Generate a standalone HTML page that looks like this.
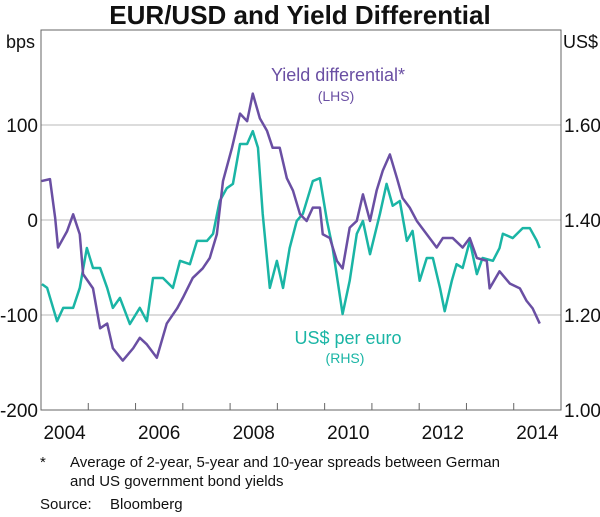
<!DOCTYPE html>
<html><head><meta charset="utf-8">
<style>
body{margin:0;background:#fff;width:600px;height:512px;overflow:hidden;font-family:"Liberation Sans",Arial,sans-serif;}
svg text{font-family:"Liberation Sans",Arial,sans-serif;}
</style></head>
<body>
<svg id="chart" width="600" height="512" xmlns="http://www.w3.org/2000/svg">
<text x="300" y="24" text-anchor="middle" font-size="26" font-weight="bold" fill="#111">EUR/USD and Yield Differential</text>
<g id="grid"></g>
<g id="axes"></g>
<g id="series"></g>
<text x="6" y="48" font-size="18" fill="#111">bps</text>
<text x="563" y="48" font-size="18" fill="#111">US$</text>
<text x="338" y="81" text-anchor="middle" font-size="18" fill="#6a4fa3">Yield differential*</text>
<text x="336" y="101" text-anchor="middle" font-size="14" fill="#6a4fa3">(LHS)</text>
<text x="348" y="344" text-anchor="middle" font-size="18" fill="#1ab5a5">US$ per euro</text>
<text x="345" y="363" text-anchor="middle" font-size="14" fill="#1ab5a5">(RHS)</text>
<text x="40" y="467" font-size="15" fill="#111">*</text>
<text x="70" y="467" font-size="15" fill="#111">Average of 2-year, 5-year and 10-year spreads between German</text>
<text x="70" y="486" font-size="15" fill="#111">and US government bond yields</text>
<text x="40" y="509" font-size="15" fill="#111">Source:</text>
<text x="110" y="509" font-size="15" fill="#111">Bloomberg</text>
</svg>
<script>
const leftTicks=[-200,-100,0,100];
const rightTickLabels=["1.00","1.20","1.40","1.60"];
const rightTicks=[1.0,1.2,1.4,1.6];
const yearLabels=[2004,2006,2008,2010,2012,2014];
const yieldDates=[2004.01,2004.19,2004.30,2004.36,2004.55,2004.68,2004.82,2004.89,2005.10,2005.25,2005.40,2005.52,2005.73,2005.95,2006.09,2006.24,2006.45,2006.66,2006.88,2007.00,2007.21,2007.42,2007.57,2007.72,2007.85,2008.04,2008.21,2008.36,2008.48,2008.63,2008.78,2008.90,2009.05,2009.20,2009.33,2009.48,2009.62,2009.75,2009.90,2009.96,2010.11,2010.26,2010.38,2010.53,2010.68,2010.81,2010.96,2011.10,2011.23,2011.38,2011.53,2011.65,2011.80,2011.95,2012.16,2012.37,2012.50,2012.71,2012.92,2013.07,2013.22,2013.43,2013.49,2013.70,2013.92,2014.13,2014.27,2014.40,2014.55];
const yieldValues=[41,43,2,-29,-12,6,-15,-57,-72,-114,-109,-135,-148,-135,-124,-131,-145,-109,-93,-82,-61,-51,-40,-15,41,76,112,104,133,107,94,76,76,44,31,6,-1,13,13,-15,-19,-43,-51,-8,-1,27,-1,31,52,69,44,23,13,-1,-15,-29,-19,-19,-29,-19,-40,-43,-72,-54,-67,-72,-85,-93,-109];
const fxDates=[2004.02,2004.13,2004.34,2004.47,2004.68,2004.82,2004.97,2005.10,2005.25,2005.40,2005.52,2005.67,2005.88,2006.09,2006.24,2006.37,2006.58,2006.79,2006.94,2007.15,2007.30,2007.51,2007.64,2007.78,2007.93,2008.06,2008.21,2008.36,2008.48,2008.59,2008.69,2008.84,2008.99,2009.12,2009.26,2009.41,2009.54,2009.75,2009.90,2010.05,2010.17,2010.38,2010.53,2010.68,2010.81,2010.96,2011.17,2011.31,2011.44,2011.59,2011.74,2011.86,2012.01,2012.16,2012.29,2012.44,2012.54,2012.69,2012.79,2012.92,2013.07,2013.22,2013.34,2013.56,2013.70,2013.77,2013.98,2014.19,2014.34,2014.49,2014.55];
const fxValues=[1.265,1.257,1.187,1.215,1.215,1.257,1.341,1.299,1.299,1.257,1.215,1.236,1.181,1.215,1.187,1.278,1.278,1.257,1.314,1.307,1.356,1.356,1.371,1.440,1.467,1.476,1.560,1.560,1.587,1.552,1.413,1.257,1.314,1.257,1.341,1.398,1.413,1.482,1.488,1.398,1.341,1.202,1.272,1.371,1.398,1.328,1.413,1.476,1.430,1.440,1.356,1.377,1.272,1.320,1.320,1.257,1.208,1.272,1.307,1.299,1.356,1.286,1.320,1.314,1.341,1.371,1.362,1.383,1.383,1.356,1.341];

const L=41,R=561,T=30,B=410;
const x=d=>L+(d-2004)/11*(R-L);
const yL=v=>B-(v+200)/400*(B-T);
const yR=v=>B-(v-1.0)/0.8*(B-T);
const NS="http://www.w3.org/2000/svg";
function mk(tag,attrs,parent){const e=document.createElementNS(NS,tag);for(const k in attrs)e.setAttribute(k,attrs[k]);parent.appendChild(e);return e;}
const grid=document.getElementById('grid'),axes=document.getElementById('axes'),series=document.getElementById('series');
leftTicks.forEach((v,i)=>{
  if(v>-200){const g=mk('line',{x1:L,x2:R,y1:yL(v),y2:yL(v),stroke:'#d0d0d0','stroke-width':1.5},grid);
  
  }
  const t=mk('text',{x:L-3,y:yL(v)+7,'text-anchor':'end','font-size':19,fill:'#111'},axes);t.textContent=v;
  
  
});
rightTicks.forEach((v,i)=>{
  const t=mk('text',{x:R+3,y:yR(v)+7,'font-size':19,fill:'#111'},axes);t.textContent=rightTickLabels[i];
  
  
});
const frame=mk('rect',{x:L,y:T,width:R-L,height:B-T,fill:'none',stroke:'#666','stroke-width':1},axes);


for(let yr=2005;yr<=2014;yr++){const tk=mk('line',{x1:x(yr),x2:x(yr),y1:B,y2:B-7,stroke:'#666','stroke-width':1},axes);
  
  }
yearLabels.forEach(yr=>{const t=mk('text',{x:x(yr+0.5),y:B+29,'text-anchor':'middle','font-size':19,fill:'#111'},axes);t.textContent=yr;
  
  });
const fxPath=mk('polyline',{points:fxDates.map((d,i)=>x(d)+','+yR(fxValues[i])).join(' '),fill:'none',stroke:'#1ab5a5','stroke-width':2.5,'stroke-linejoin':'round'},series);


const yPath=mk('polyline',{points:yieldDates.map((d,i)=>x(d)+','+yL(yieldValues[i])).join(' '),fill:'none',stroke:'#6a4fa3','stroke-width':2.5,'stroke-linejoin':'round'},series);


</script>
</body></html>
